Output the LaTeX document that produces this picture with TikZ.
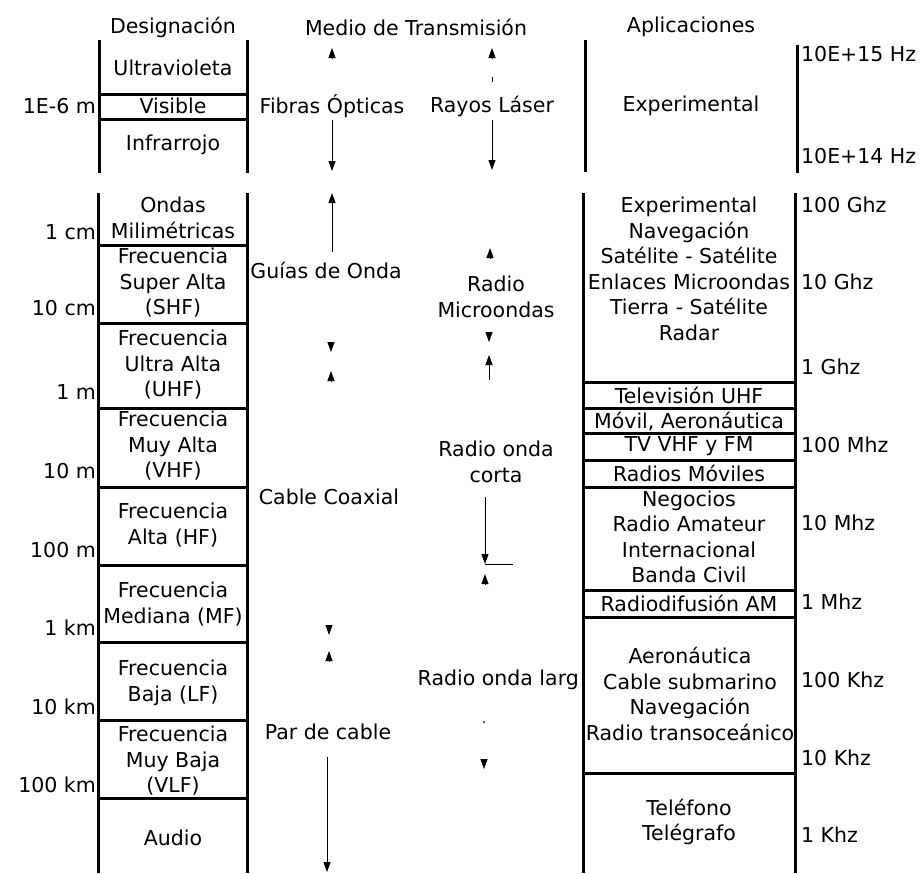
\documentclass[tikz,border=0pt]{standalone}
\usepackage{fontspec}
\setmainfont{DejaVu Sans}
\usetikzlibrary{arrows.meta}
\tikzset{
  banda/.style={line width=3pt},
  rango/.style={line width=0.9pt,-{Triangle[length=10pt,width=7pt]}},
  txt/.style={inner sep=0pt,align=center,font=\fontsize{20.5}{25.5}\selectfont},
  ondal/.style={txt,anchor=east},
  frec/.style={txt,anchor=west},
}

\begin{document}
\begin{tikzpicture}[x=1pt,y=-1pt]
\useasboundingbox (0,0) rectangle (923,873);
% encabezados
\node[txt] (designa) at (173,27) {Designación};
\node[txt] (medio) at (416,27) {Medio de Transmisión};
\node[txt] (aplica) at (691,27) {Aplicaciones};

% columna de designacion, parte optica
\draw[banda] (99,40) -- (99,173);
\draw[banda] (247,40) -- (247,173);
\draw[banda] (99,94) -- (247,94);
\draw[banda] (99,119) -- (247,119);
\node[txt] (uv) at (173,68) {Ultravioleta};
\node[txt] (vis) at (173,106) {Visible};
\node[txt] (ir) at (173,145) {Infrarrojo};

% columna de designacion, parte radio
\draw[banda] (98,193) -- (98,873);
\draw[banda] (247,193) -- (247,873);
\foreach \y in {245,323,408,487,565,642,720,798}
  \draw[banda] (98,\y) -- (247,\y);
\node[txt] (ehf) at (173,218) {Ondas\\Milimétricas};
\node[txt] (shf) at (173,283) {Frecuencia\\Super Alta\\(SHF)};
\node[txt] (uhf) at (173,365) {Frecuencia\\Ultra Alta\\(UHF)};
\node[txt] (vhf) at (173,446) {Frecuencia\\Muy Alta\\(VHF)};
\node[txt] (hf) at (173,525) {Frecuencia\\Alta (HF)};
\node[txt] (mf) at (173,604) {Frecuencia\\Mediana (MF)};
\node[txt] (lf) at (173,683) {Frecuencia\\Baja (LF)};
\node[txt] (vlf) at (173,761) {Frecuencia\\Muy Baja\\(VLF)};
\node[txt] (audio) at (173,838) {Audio};

% longitudes de onda
\node[ondal] (l1) at (96,106) {1E-6 m};
\node[ondal] (l2) at (96,232) {1 cm};
\node[ondal] (l3) at (96,308) {10 cm};
\node[ondal] (l4) at (96,392) {1 m};
\node[ondal] (l5) at (96,471) {10 m};
\node[ondal] (l6) at (96,550) {100 m};
\node[ondal] (l7) at (96,628) {1 km};
\node[ondal] (l8) at (96,707) {10 km};
\node[ondal] (l9) at (96,785) {100 km};

% medios de transmision
\node[txt] (fibra) at (332,106) {Fibras Ópticas};
\node[txt] (laser) at (492,106) {Rayos Láser};
\node[txt] (guia) at (326,270) {Guías de Onda};
\node[txt] (micro) at (496,297) {Radio\\Microondas};
\node[txt] (coax) at (329,497) {Cable Coaxial};
\node[txt] (corta) at (496,462) {Radio onda\\corta};
\node[ondal] (larga) at (579,680) {Radio onda larg};
\node[txt] (par) at (328,732) {Par de cable};

\coordinate (f1) at (332,58); \coordinate (f2) at (332,48);
\coordinate (f3) at (332,120); \coordinate (f4) at (332,171);
\coordinate (g1) at (332,252); \coordinate (g2) at (332,193);
\coordinate (g3) at (331,342); \coordinate (g4) at (331,352);
\coordinate (g5) at (331,381); \coordinate (g6) at (331,371);
\coordinate (c1) at (329,625); \coordinate (c2) at (329,635);
\coordinate (c3) at (329,661); \coordinate (c4) at (329,651);
\coordinate (p1) at (327,757); \coordinate (p2) at (327,872);
\draw[rango] (f1) -- (f2);
\draw[rango] (f3) -- (f4);
\draw[rango] (g1) -- (g2);
\draw[rango] (g3) -- (g4);
\draw[rango] (g5) -- (g6);
\draw[rango] (c1) -- (c2);
\draw[rango] (c3) -- (c4);
\draw[rango] (p1) -- (p2);

\coordinate (r1) at (492,58); \coordinate (r2) at (492,48);
\coordinate (r3) at (492,120); \coordinate (r4) at (492,170);
\coordinate (m1) at (490,258); \coordinate (m2) at (490,248);
\coordinate (m3) at (489,332); \coordinate (m4) at (489,342);
\coordinate (m5) at (489,380); \coordinate (m6) at (489,355);
\coordinate (k1) at (485,497); \coordinate (k2) at (485,564);
\coordinate (k3) at (513,564); \coordinate (k4) at (485,584);
\coordinate (k5) at (485,574);
\coordinate (n1) at (484,759); \coordinate (n2) at (484,769);
\draw[line width=0.9pt] (492,77) -- (492,82);
\draw[rango] (r1) -- (r2);
\draw[rango] (r3) -- (r4);
\draw[rango] (m1) -- (m2);
\draw[rango] (m3) -- (m4);
\draw[rango] (m5) -- (m6);
\draw[rango] (k1) -- (k2);
\draw[line width=0.9pt] (k2) -- (k3);
\draw[rango] (k4) -- (k5);
\fill (484,722) circle[radius=1pt];
\draw[rango] (n1) -- (n2);

% columna de aplicaciones
\draw[banda] (585,40) -- (585,172);
\draw[banda] (797,45) -- (797,173);
\node[txt] (expo) at (691,106) {Experimental};
\draw[banda] (583,193) -- (583,873);
\draw[banda] (795,193) -- (795,873);
\foreach \y in {382,408,433,460,487,590,617,773}
  \draw[banda] (583,\y) -- (795,\y);
\node[txt] (expr) at (689,269) {Experimental\\Navegación\\Satélite - Satélite\\Enlaces Microondas\\Tierra - Satélite\\Radar};
\node[txt] (tvu) at (689,395) {Televisión UHF};
\node[txt] (movil) at (689,421) {Móvil, Aeronáutica};
\node[txt] (tvv) at (689,446) {TV VHF y FM};
\node[txt] (radm) at (689,473) {Radios Móviles};
\node[txt] (nego) at (689,537) {Negocios\\Radio Amateur\\Internacional\\Banda Civil};
\node[txt] (am) at (689,603) {Radiodifusión AM};
\node[txt] (aero) at (690,694) {Aeronáutica\\Cable submarino\\Navegación\\Radio transoceánico};
\node[txt] (tel) at (689,822) {Teléfono\\Telégrafo};

% frecuencias
\node[frec] (h1) at (801,54) {10E+15 Hz};
\node[frec] (h2) at (801,156) {10E+14 Hz};
\node[frec] (h3) at (801,205) {100 Ghz};
\node[frec] (h4) at (801,282) {10 Ghz};
\node[frec] (h5) at (801,367) {1 Ghz};
\node[frec] (h6) at (801,445) {100 Mhz};
\node[frec] (h7) at (801,523) {10 Mhz};
\node[frec] (h8) at (801,602) {1 Mhz};
\node[frec] (h9) at (801,680) {100 Khz};
\node[frec] (h10) at (801,758) {10 Khz};
\node[frec] (h11) at (801,835) {1 Khz};
\end{tikzpicture}
\end{document}
